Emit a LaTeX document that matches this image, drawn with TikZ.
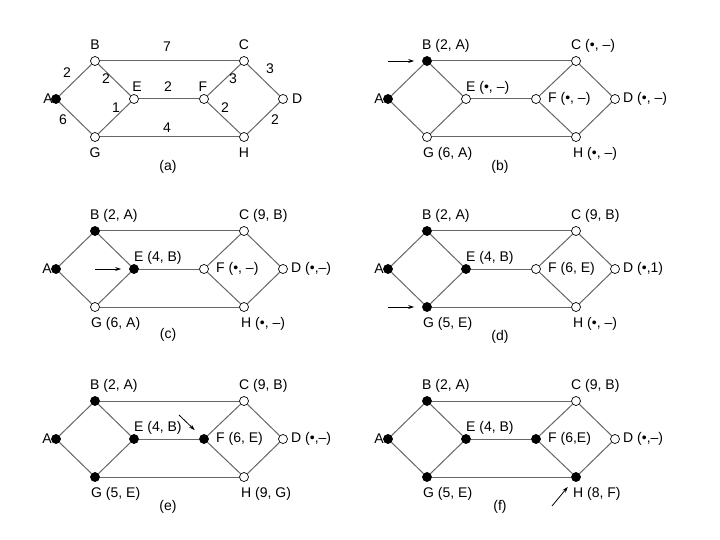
\documentclass[tikz,border=0pt]{standalone}
\usepackage{fontspec}
\setmainfont{Liberation Sans}
\usepackage{tikz}
\usetikzlibrary{arrows.meta}

\tikzset{
  tent/.style={circle,draw,fill=white,line width=0.7pt,inner sep=0pt,minimum size=9pt},
  perm/.style={tent,fill=black},
  edge/.style={draw=black!60,line width=1pt},
  lbl/.style={font=\fontsize{14}{16}\selectfont,inner sep=0pt},
  pointer/.style={-{Stealth[length=6pt,width=4pt]},line width=0.8pt,shorten >=8pt}
}

% nodes A..H of the network, then its eleven links
\newcommand{\netnodes}[8]{%
  \node[#1] (A) at (0,0) {};
  \node[#2] (B) at (39,-38) {};
  \node[#3] (C) at (188,-38) {};
  \node[#4] (D) at (227,0) {};
  \node[#5] (E) at (78,0) {};
  \node[#6] (F) at (148,0) {};
  \node[#7] (G) at (39,38) {};
  \node[#8] (H) at (188,38) {};
  \foreach \u/\v in {A/B,A/G,B/E,G/E,B/C,E/F,G/H,F/C,F/H,C/D,H/D}
    \draw[edge] (\u) -- (\v);
}
% labels (distance, predecessor) of B,C,D,E,F,G,H
\newcommand{\netlabels}[7]{%
  \node[lbl,anchor=east] (lA) at ([xshift=-4pt]A.center) {A};
  \node[lbl,anchor=west] (lB) at ([shift={(-5pt,15pt)}]B.center) {#1};
  \node[lbl,anchor=west] (lC) at ([shift={(-5pt,15pt)}]C.center) {#2};
  \node[lbl,anchor=west] (lD) at ([xshift=8pt]D.center) {#3};
  \node[lbl,anchor=west] (lE) at ([yshift=11pt]E.center) {#4};
  \node[lbl,anchor=west] (lF) at ([xshift=12pt]F.center) {#5};
  \node[lbl,anchor=west] (lG) at ([shift={(-4pt,-17pt)}]G.center) {#6};
  \node[lbl,anchor=west] (lH) at ([shift={(-3pt,-17pt)}]H.center) {#7};
}

\begin{document}
\begin{tikzpicture}[x=1pt,y=-1pt]
  \useasboundingbox[fill=white] (0,0) rectangle (720,540);
  % (a) the network with its weights
  \begin{scope}[shift={(56,99)}]
    \netnodes{perm}{tent}{tent}{tent}{tent}{tent}{tent}{tent}
    \node[lbl,anchor=east] (lA) at ([xshift=-3pt]A.center) {A};
    \node[lbl] (lB) at (39,-54) {B};
    \node[lbl] (lC) at (188,-54) {C};
    \node[lbl,anchor=west] (lD) at ([xshift=9pt]D.center) {D};
    \node[lbl] (lE) at (81,-12) {E};
    \node[lbl] (lF) at (147,-12) {F};
    \node[lbl] (lG) at (39,54) {G};
    \node[lbl] (lH) at (188,54) {H};
    \node[lbl] (w1) at (11,-26) {2};
    \node[lbl] (w2) at (50,-20) {2};
    \node[lbl] (w3) at (111,-52) {7};
    \node[lbl] (w4) at (177,-20) {3};
    \node[lbl] (w5) at (214,-30) {3};
    \node[lbl] (w6) at (112,-12) {2};
    \node[lbl] (w7) at (60,9) {1};
    \node[lbl] (w8) at (169,9) {2};
    \node[lbl] (w9) at (7,21) {6};
    \node[lbl] (w10) at (111,29) {4};
    \node[lbl] (w11) at (219,21) {2};
    \node[lbl] (cap) at (112,68) {(a)};
  \end{scope}
  % (b) B made permanent
  \begin{scope}[shift={(388,99)}]
    \netnodes{perm}{perm}{tent}{tent}{tent}{tent}{tent}{tent}
    \netlabels{B (2, A)}{C (•, –)}{D (•, –)}{E (•, –)}{F (•, –)}{G (6, A)}{H (•, –)}
    \coordinate (p) at ([xshift=-39pt]B.center);
    \draw[pointer] (p) -- (B);
    \node[lbl] (cap) at (112,68) {(b)};
  \end{scope}
  % (c) E made permanent
  \begin{scope}[shift={(56,269)}]
    \netnodes{perm}{perm}{tent}{tent}{perm}{tent}{tent}{tent}
    \netlabels{B (2, A)}{C (9, B)}{D (•,–)}{E (4, B)}{F (•, –)}{G (6, A)}{H (•, –)}
    \coordinate (p) at ([xshift=-39pt]E.center);
    \draw[pointer] (p) -- (E);
    \node[lbl] (cap) at (112,66) {(c)};
  \end{scope}
  % (d) G made permanent
  \begin{scope}[shift={(388,269)}]
    \netnodes{perm}{perm}{tent}{tent}{perm}{tent}{perm}{tent}
    \netlabels{B (2, A)}{C (9, B)}{D (•,1)}{E (4, B)}{F (6, E)}{G (5, E)}{H (•, –)}
    \coordinate (p) at ([xshift=-39pt]G.center);
    \draw[pointer] (p) -- (G);
    \node[lbl] (cap) at (112,68) {(d)};
  \end{scope}
  % (e) F made permanent
  \begin{scope}[shift={(56,439)}]
    \netnodes{perm}{perm}{tent}{tent}{perm}{perm}{perm}{tent}
    \netlabels{B (2, A)}{C (9, B)}{D (•,–)}{E (4, B)}{F (6, E)}{G (5, E)}{H (9, G)}
    \coordinate (p) at ([shift={(-25pt,24pt)}]F.center);
    \draw[pointer] (p) -- (F);
    \node[lbl] (cap) at (112,68) {(e)};
  \end{scope}
  % (f) H made permanent
  \begin{scope}[shift={(388,439)}]
    \netnodes{perm}{perm}{tent}{tent}{perm}{perm}{perm}{perm}
    \netlabels{B (2, A)}{C (9, B)}{D (•,–)}{E (4, B)}{F (6,E)}{G (5, E)}{H (8, F)}
    \coordinate (p) at ([shift={(-24pt,-29pt)}]H.center);
    \draw[pointer] (p) -- (H);
    \node[lbl] (cap) at (112,68) {(f)};
  \end{scope}
\end{tikzpicture}
\end{document}
